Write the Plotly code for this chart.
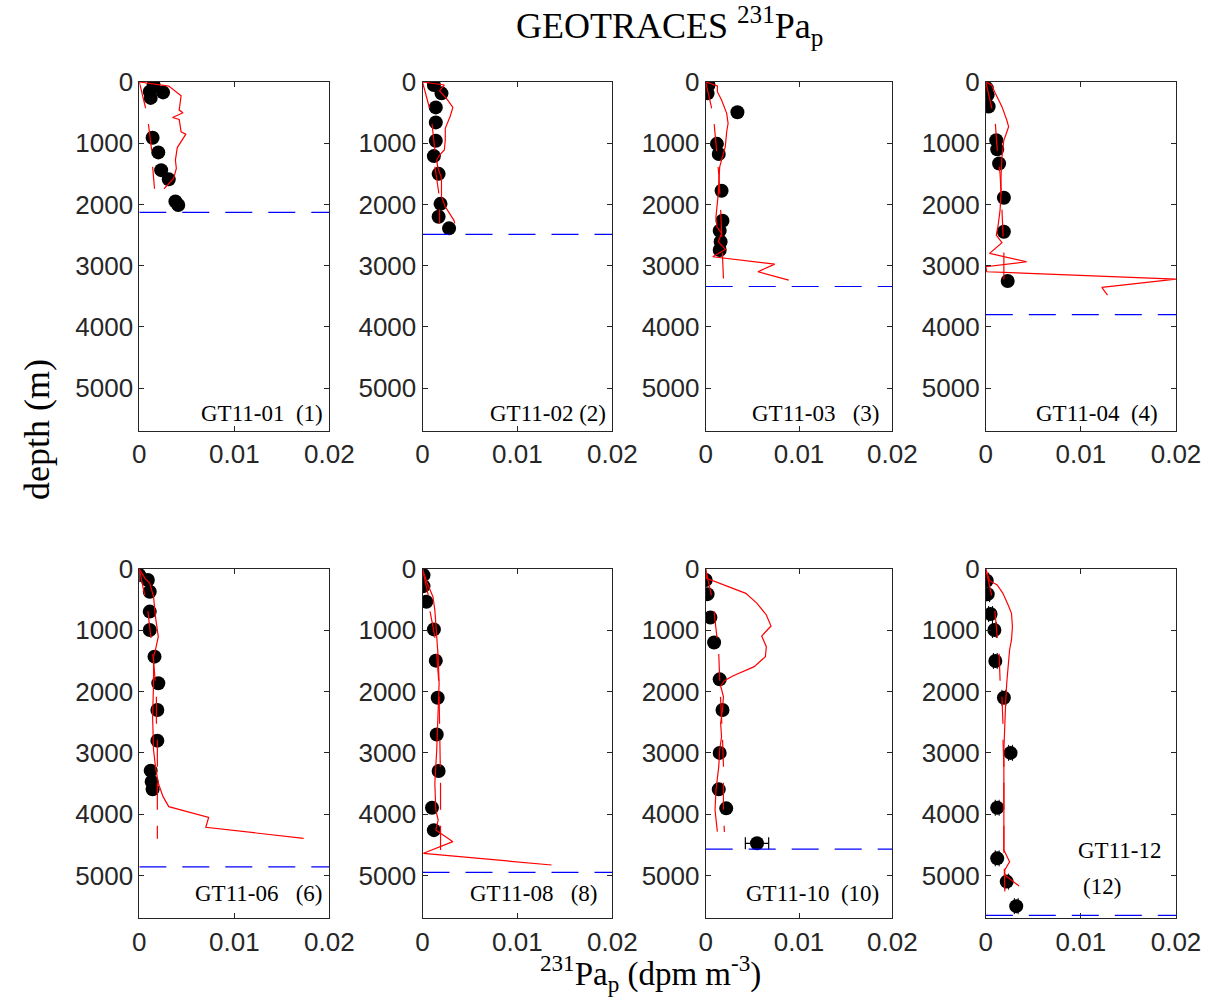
import plotly.graph_objects as go

# ---------------- data: particulate 231Pa profiles, GEOTRACES GT11 stations ----------------
# observations (dpm m-3, depth m), model run A (solid), model run B (dashed), seafloor depth

st01_obs_x = [0.0015, 0.0011, 0.0012, 0.0025, 0.0014, 0.0020, 0.0023, 0.0031, 0.0038, 0.0041]
st01_obs_z = [50, 160, 260, 170, 910, 1150, 1440, 1590, 1950, 2010]
st01_modA_x = [0, 0.0031, 0.0044, 0.0042, 0.0046, 0.0035, 0.0042, 0.0044, 0.0049, 0.0040, 0.0038, 0.0039, 0.0036, 0.0026]
st01_modA_z = [0, 66, 224, 459, 503, 579, 612, 814, 852, 1071, 1275, 1410, 1579, 1743]
st01_modB_x = [0, 0.00063, 0.00095, 0.0013, 0.0014, 0.0016]
st01_modB_z = [0, 404, 677, 1115, 1377, 1743]
st01_floor = 2130

st02_obs_x = [0.0012, 0.0020, 0.0014, 0.0014, 0.0014, 0.0012, 0.0017, 0.0019, 0.0017, 0.0028]
st02_obs_z = [50, 185, 415, 660, 960, 1210, 1500, 1990, 2200, 2390]
st02_modA_x = [0, 0.0023, 0.0018, 0.0026, 0.0032, 0.0029, 0.0024, 0.0024, 0.0023, 0.0018, 0.0015, 0.0016, 0.0020, 0.0020, 0.0024, 0.0033, 0.0034]
st02_modA_z = [0, 49, 142, 283, 414, 567, 757, 948, 1111, 1193, 1275, 1384, 1574, 1874, 2037, 2255, 2309]
st02_modB_x = [0, 0.0007, 0.0010, 0.0013, 0.0013, 0.0017, 0.0018, 0.0018]
st02_modB_z = [0, 404, 675, 1111, 1373, 1792, 2064, 2309]
st02_floor = 2490

st03_obs_x = [0.0003, 0.0002, 0.0034, 0.0012, 0.0014, 0.0017, 0.0018, 0.0015, 0.0016, 0.0015]
st03_obs_z = [50, 185, 495, 1010, 1175, 1775, 2265, 2430, 2610, 2745]
st03_modA_x = [0, 0.00125, 0.00125, 0.0017, 0.00225, 0.0024, 0.00225, 0.0021, 0.0017, 0.0015, 0.00135, 0.0011, 0.0012, 0.0017, 0.00135, 0.0021, 0.00075, 0.0074, 0.0056, 0.0089]
st03_modA_z = [0, 65, 158, 294, 512, 675, 812, 1057, 1275, 1384, 1819, 2201, 2364, 2473, 2609, 2734, 2854, 2974, 3099, 3235]
st03_modB_x = [0, 0.0006, 0.0009, 0.0012, 0.0014, 0.0016, 0.0017, 0.0018, 0.0019]
st03_modB_z = [0, 404, 675, 1116, 1500, 2080, 2500, 2773, 3208]
st03_floor = 3340

st04_obs_x = [0.0001, 0.0002, 0.0003, 0.0011, 0.0012, 0.0014, 0.0019, 0.0019, 0.0023]
st04_obs_z = [100, 210, 400, 950, 1100, 1330, 1890, 2445, 3250]
st04_modA_x = [0, 0.0006, 0.0010, 0.0017, 0.0022, 0.0024, 0.0021, 0.0019, 0.0017, 0.0016, 0.0016, 0.0015, 0.0013, 0.0011, 0.0017, 0.0004, 0.0043, 0.0, 0.0001, 0.0200, 0.0122, 0.0128]
st04_modA_z = [0, 49, 185, 403, 621, 730, 866, 948, 1220, 1547, 1819, 2092, 2337, 2500, 2625, 2799, 2936, 3017, 3099, 3219, 3355, 3480]
st04_modB_x = [0, 0.0006, 0.0010, 0.0012, 0.0015, 0.0017, 0.0018, 0.0019, 0.0019]
st04_modB_z = [0, 404, 675, 1100, 1500, 2092, 2500, 2788, 3480]
st04_floor = 3800

st06_obs_x = [0.0000, 0.0009, 0.0011, 0.0011, 0.0011, 0.0016, 0.0020, 0.0019, 0.0019, 0.0012, 0.0013, 0.0014]
st06_obs_z = [100, 180, 370, 695, 995, 1430, 1865, 2300, 2800, 3290, 3470, 3595]
st06_modA_x = [0, 0.0006, 0.0011, 0.0015, 0.0017, 0.0020, 0.0017, 0.0015, 0.0015, 0.0014, 0.0015, 0.0017, 0.0020, 0.0025, 0.0031, 0.0073, 0.0070, 0.0173]
st06_modA_z = [0, 152, 234, 452, 778, 1104, 1321, 1430, 1865, 2409, 2953, 3225, 3496, 3714, 3877, 4051, 4214, 4394]
st06_modB_x = [0, 0.0005, 0.0009, 0.0012, 0.0015, 0.0018, 0.0018, 0.0019, 0.0019, 0.0019, 0.0019]
st06_modB_z = [0, 400, 685, 1090, 1500, 2060, 2490, 2760, 3170, 3440, 4400]
st06_floor = 4860

st08_obs_x = [0.0001, 0.0001, 0.0004, 0.0012, 0.0014, 0.0016, 0.0015, 0.0017, 0.0010, 0.0012]
st08_obs_z = [100, 280, 535, 985, 1495, 2100, 2700, 3295, 3895, 4260]
st08_modA_x = [0, 0.0005, 0.0011, 0.0013, 0.0015, 0.00165, 0.00175, 0.00165, 0.0015, 0.0013, 0.0014, 0.00165, 0.0014, 0.0032, 0.0001, 0.0136]
st08_modA_z = [0, 234, 452, 669, 1104, 1430, 1865, 2409, 2953, 3496, 3931, 4095, 4258, 4448, 4638, 4829]
st08_modB_x = [0, 0.0006, 0.0008, 0.0013, 0.0015, 0.0017, 0.00175, 0.0018, 0.0019, 0.0019]
st08_modB_z = [0, 424, 696, 1104, 1400, 1811, 2083, 2491, 3470, 4584]
st08_floor = 4950

st10_obs_x = [0.0000, 0.0002, 0.0005, 0.0009, 0.0015, 0.0018, 0.0015, 0.0014, 0.0022]
st10_obs_z = [180, 410, 790, 1200, 1800, 2300, 3000, 3595, 3905]
st10_deep_x = [0.0055]
st10_deep_z = [4475]
st10_deep_err = [0.00125]
st10_modA_x = [0, 0.0001, 0.0043, 0.0055, 0.0065, 0.0070, 0.0060, 0.0065, 0.0064, 0.0052, 0.0029, 0.0020, 0.0016, 0.0019, 0.0018, 0.0016, 0.0017, 0.0015, 0.0014, 0.0011, 0.0010, 0.00125]
st10_modA_z = [0, 152, 397, 560, 750, 930, 1093, 1267, 1430, 1593, 1746, 1822, 1909, 2083, 2300, 2518, 2735, 2953, 3225, 3605, 3931, 4285]
st10_modB_x = [0, 0.0006, 0.0009, 0.0012, 0.0014, 0.0015, 0.0016, 0.0017, 0.0018, 0.0019, 0.0019, 0.0020]
st10_modB_z = [0, 420, 700, 1130, 1380, 1810, 2080, 2520, 2760, 3200, 3900, 4290]
st10_floor = 4570

st12_obs_x = [0.0001, 0.0002, 0.0005, 0.0009, 0.0010, 0.0019, 0.0026, 0.0012, 0.0012, 0.0022, 0.0032]
st12_obs_z = [190, 410, 735, 995, 1500, 2100, 3000, 3895, 4720, 5100, 5500]
st12_obs_err = 0.0002
st12_modA_x = [0, 0.0004, 0.0012, 0.0018, 0.00235, 0.0027, 0.0028, 0.0027, 0.0025, 0.00235, 0.0022, 0.0021, 0.0020, 0.0019, 0.0019, 0.0019, 0.0019, 0.0025, 0.0020, 0.0020, 0.0035]
st12_modA_z = [0, 190, 261, 397, 587, 723, 941, 1158, 1321, 1539, 1865, 2137, 2572, 2953, 3496, 4041, 4584, 4775, 4910, 4992, 5171]
st12_modB_x = [0, 0.0006, 0.00095, 0.0012, 0.0014, 0.0015, 0.0017, 0.0018, 0.0018, 0.0019, 0.0019, 0.0019, 0.0020]
st12_modB_z = [0, 420, 670, 1100, 1380, 1810, 2080, 2510, 2760, 3200, 3900, 4580, 5260]
st12_floor = 5650

x_tickvals = [0, 0.01, 0.02]
x_ticktext = ["0", "0.01", "0.02"]
depth_ticks = [0, 1000, 2000, 3000, 4000, 5000]
x_range = [0, 0.02]
depth_range = [5700, 0]

# ---------------- panel layout (pixels on a 1207 x 1000 canvas) ----------------
W, H = 1207, 1000
col_px = [(139.3, 329.3), (422.5, 612.3), (705.7, 892.3), (985.8, 1176.0)]
row_px = [(82.0, 431.0), (569.0, 918.4)]

stations = [
    dict(obs=(st01_obs_x, st01_obs_z), A=(st01_modA_x, st01_modA_z), B=(st01_modB_x, st01_modB_z), floor=st01_floor),
    dict(obs=(st02_obs_x, st02_obs_z), A=(st02_modA_x, st02_modA_z), B=(st02_modB_x, st02_modB_z), floor=st02_floor),
    dict(obs=(st03_obs_x, st03_obs_z), A=(st03_modA_x, st03_modA_z), B=(st03_modB_x, st03_modB_z), floor=st03_floor),
    dict(obs=(st04_obs_x, st04_obs_z), A=(st04_modA_x, st04_modA_z), B=(st04_modB_x, st04_modB_z), floor=st04_floor),
    dict(obs=(st06_obs_x, st06_obs_z), A=(st06_modA_x, st06_modA_z), B=(st06_modB_x, st06_modB_z), floor=st06_floor),
    dict(obs=(st08_obs_x, st08_obs_z), A=(st08_modA_x, st08_modA_z), B=(st08_modB_x, st08_modB_z), floor=st08_floor),
    dict(obs=(st10_obs_x, st10_obs_z), A=(st10_modA_x, st10_modA_z), B=(st10_modB_x, st10_modB_z), floor=st10_floor),
    dict(obs=(st12_obs_x, st12_obs_z), A=(st12_modA_x, st12_modA_z), B=(st12_modB_x, st12_modB_z), floor=st12_floor,
         err=st12_obs_err),
]

AXIS_COLOR = "#262626"
TICK_FONT = dict(family="Liberation Sans, Arial, sans-serif", size=26, color=AXIS_COLOR)
SERIF = "Liberation Serif, Times New Roman, serif"
DASH = "27px,16px"

fig = go.Figure()
layout_axes = {}

for i, st in enumerate(stations):
    r, c = divmod(i, 4)
    n = "" if i == 0 else str(i + 1)
    xref, yref = "x" + n, "y" + n
    x0, x1 = col_px[c]
    y0, y1 = row_px[r]

    layout_axes["xaxis" + n] = dict(
        domain=[x0 / W, x1 / W], anchor=yref, range=x_range, automargin=False,
        tickvals=x_tickvals, ticktext=x_ticktext, ticks="inside", ticklen=5,
        tickcolor=AXIS_COLOR, showline=True, linecolor=AXIS_COLOR, linewidth=1,
        mirror="ticks", showgrid=False, zeroline=False, tickfont=TICK_FONT,
    )
    layout_axes["yaxis" + n] = dict(
        domain=[1 - y1 / H, 1 - y0 / H], anchor=xref, range=depth_range, automargin=False,
        tickvals=depth_ticks, ticks="inside", ticklen=5, tickcolor=AXIS_COLOR,
        showline=True, linecolor=AXIS_COLOR, linewidth=1, mirror="ticks",
        showgrid=False, zeroline=False, tickfont=TICK_FONT,
    )

    ox, oz = st["obs"]
    marker = dict(color="black", size=14)
    if "err" in st:
        fig.add_trace(go.Scatter(
            x=ox, y=oz, mode="markers", marker=marker, xaxis=xref, yaxis=yref,
            error_x=dict(type="constant", value=st["err"], color="black", thickness=1, width=8),
            showlegend=False))
    else:
        fig.add_trace(go.Scatter(x=ox, y=oz, mode="markers", marker=marker,
                                 xaxis=xref, yaxis=yref, showlegend=False))
    if i == 6:
        fig.add_trace(go.Scatter(
            x=st10_deep_x, y=st10_deep_z, mode="markers", marker=marker,
            error_x=dict(type="data", array=st10_deep_err, color="black", thickness=1.2, width=6),
            xaxis=xref, yaxis=yref, showlegend=False))

    ax_, az_ = st["A"]
    fig.add_trace(go.Scatter(x=ax_, y=az_, mode="lines", line=dict(color="#ff0000", width=1.2),
                             xaxis=xref, yaxis=yref, showlegend=False))
    bx_, bz_ = st["B"]
    fig.add_trace(go.Scatter(x=bx_, y=bz_, mode="lines", line=dict(color="#ff0000", width=1.2, dash=DASH),
                             xaxis=xref, yaxis=yref, showlegend=False))
    fig.add_trace(go.Scatter(x=x_range, y=[st["floor"], st["floor"]], mode="lines",
                             line=dict(color="#0000ff", width=1.2, dash=DASH),
                             xaxis=xref, yaxis=yref, showlegend=False))

# station labels (paper pixel positions)
NB = "\u00a0"
labels = [
    ("GT11-01" + NB * 2 + "(1)", 325, 413),
    ("GT11-02" + NB + "(2)", 608, 413),
    ("GT11-03" + NB * 3 + "(3)", 882, 413),
    ("GT11-04" + NB * 2 + "(4)", 1160, 413),
    ("GT11-06" + NB * 3 + "(6)", 325, 893),
    ("GT11-08" + NB * 3 + "(8)", 600, 893),
    ("GT11-10" + NB * 2 + "(10)", 881, 893),
    ("GT11-12", 1163, 850),
    ("(12)", 1123, 886),
]
annotations = []
for txt, px, py in labels:
    annotations.append(dict(text=txt, x=px / W, y=1 - py / H, xref="paper", yref="paper",
                            xanchor="right", yanchor="middle", showarrow=False,
                            font=dict(family=SERIF, size=23, color="black")))

annotations.append(dict(text="GEOTRACES <sup>231</sup>Pa<sub>p</sub>", x=669 / W, y=1 - 26 / H,
                        xref="paper", yref="paper", xanchor="center", yanchor="middle",
                        showarrow=False, font=dict(family=SERIF, size=36, color="black")))
annotations.append(dict(text="<sup>231</sup>Pa<sub>p</sub> (dpm m<sup>-3</sup>)", x=650 / W, y=1 - 973 / H,
                        xref="paper", yref="paper", xanchor="center", yanchor="middle",
                        showarrow=False, font=dict(family=SERIF, size=33, color="black")))
annotations.append(dict(text="depth (m)", x=37 / W, y=1 - 430 / H, textangle=-90,
                        xref="paper", yref="paper", xanchor="center", yanchor="middle",
                        showarrow=False, font=dict(family=SERIF, size=36, color="black")))

fig.update_layout(
    width=W, height=H, margin=dict(l=0, r=0, t=0, b=0, pad=0, autoexpand=False),
    paper_bgcolor="white", plot_bgcolor="white",
    annotations=annotations, showlegend=False,
    **layout_axes,
)

fig.write_html("out.html")
